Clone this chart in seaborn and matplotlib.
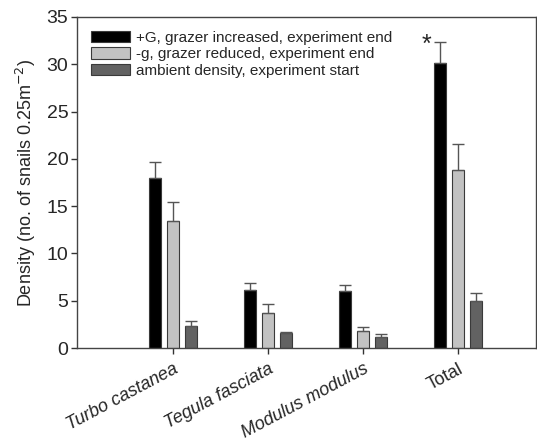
import matplotlib
matplotlib.use("Agg")
import matplotlib.pyplot as plt
import seaborn as sns
import pandas as pd
import numpy as np

species = ["Turbo castanea", "Tegula fasciata", "Modulus modulus", "Total"]
treatments = ["+G, grazer increased, experiment end",
              "-g, grazer reduced, experiment end",
              "ambient density, experiment start"]
plus_g = [18.0, 6.1, 6.0, 30.1]
plus_g_se = [1.7, 0.8, 0.7, 2.2]
minus_g = [13.45, 3.7, 1.8, 18.85]
minus_g_se = [1.95, 1.0, 0.4, 2.75]
ambient = [2.3, 1.55, 1.2, 4.97]
ambient_se = [0.55, 0.12, 0.3, 0.88]
colors = ["#000000", "#c2c2c2", "#626262"]

rows = []
for t, vals, ses in zip(treatments, [plus_g, minus_g, ambient], [plus_g_se, minus_g_se, ambient_se]):
    for s, v, e in zip(species, vals, ses):
        rows.append({"species": s, "treatment": t, "density": v, "se": e})
df = pd.DataFrame(rows)

sns.set_style("ticks")
plt.rcParams['font.family'] = ['Liberation Sans', 'DejaVu Sans']

fig = plt.figure(figsize=(5.37, 4.44), dpi=100)
ax = fig.add_axes([0.143, 0.216, 0.855, 0.746])

sns.barplot(data=df, x="species", y="density", hue="treatment",
            order=species, hue_order=treatments, palette=colors,
            width=0.57, gap=0.34, errorbar=None, edgecolor="#3a3a3a",
            linewidth=0.8, ax=ax, saturation=1)

# error bars (upper only) at bar centres
for ti, t in enumerate(treatments):
    cont = ax.containers[ti]
    sub = df[df.treatment == t].set_index("species").loc[species]
    for bar, v, e in zip(cont.patches, sub.density, sub.se):
        xc = bar.get_x() + bar.get_width() / 2
        ax.errorbar([xc], [v], yerr=[[0], [e]], fmt="none", ecolor="#555555",
                    elinewidth=1.0, capsize=4, capthick=1.0, zorder=1)

ax.set_xlim(-1.01, 3.82)
ax.set_ylim(0, 35)
ax.set_yticks(np.arange(0, 36, 5))
ax.tick_params(axis="y", labelsize=14, length=4, width=1, color="#333333", pad=2)
ax.tick_params(axis="x", labelsize=13, length=4, width=1, color="#333333", pad=5)
ax.set_xlabel("")
ax.set_ylabel("Density (no. of snails 0.25m$^{-2}$)", fontsize=13, labelpad=6)
ax.set_xticks(range(len(species)))
labels = ax.set_xticklabels(species, rotation=28, ha="right", rotation_mode="anchor")
for lab in labels:
    if lab.get_text() != "Total":
        lab.set_fontstyle("italic")
for sp in ax.spines.values():
    sp.set_color("#444444")
    sp.set_linewidth(1)

# asterisk above Total +G bar
tot_bar = ax.containers[0].patches[3]
ax.text(tot_bar.get_x() - 0.08, 30.8, "*", fontsize=18, ha="center", va="bottom")

leg = ax.legend(loc="upper left", frameon=False, fontsize=11,
                handlelength=2.6, handleheight=0.8, borderaxespad=0.5,
                labelspacing=0.15, handletextpad=0.4)
for h in leg.legend_handles:
    h.set_edgecolor("#3a3a3a")

fig.savefig("out.png", dpi=100)
